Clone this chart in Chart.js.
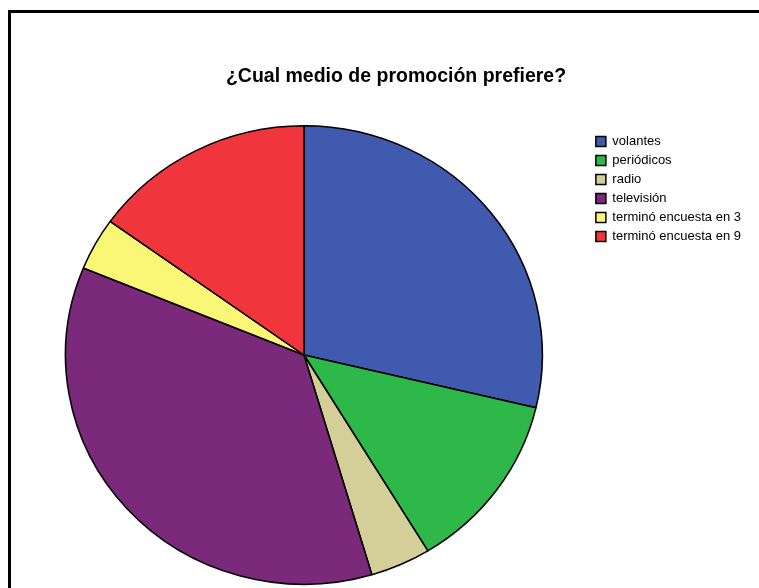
<!DOCTYPE html>
<html>
<head>
<meta charset="utf-8">
<script src="https://cdn.jsdelivr.net/npm/chart.js@4/dist/chart.umd.min.js"></script>
<style>
  html, body { margin: 0; padding: 0; background: #fff; overflow: hidden; }
  #wrap { position: relative; width: 759px; height: 588px; }
  #frame {
    position: absolute; left: 8px; top: 10px; width: 900px; height: 700px;
    border-left: 3px solid #000; border-top: 3px solid #000; pointer-events: none;
  }
</style>
</head>
<body>
<div id="wrap">
  <canvas id="promoChart" width="759" height="588"></canvas>
  <div id="frame"></div>
</div>
<script>
const categories = ["volantes", "periódicos", "radio", "televisión", "terminó encuesta en 3", "terminó encuesta en 9"];
const shares = [28.7, 12.6, 4.1, 35.8, 3.7, 15.1];
const sliceColors = ["#3F5AAE", "#2FB84A", "#D4CE98", "#7B297B", "#FBF776", "#F0363C"];

// the pie is a little wider than tall
const stretchX = 1.04;

const ellipsePie = {
    id: "ellipsePie",
    beforeDatasetsDraw(chart) {
        const arc = chart.getDatasetMeta(0).data[0];
        if (!arc) return;
        const ctx = chart.ctx;
        ctx.save();
        ctx.translate(arc.x, arc.y);
        ctx.scale(stretchX, 1);
        ctx.translate(-arc.x, -arc.y);
    },
    afterDatasetsDraw(chart) {
        chart.ctx.restore();
    },
    afterLayout(chart) {
        // title sits right of centre, legend starts level with the pie
        chart.titleBlock.left += 23;
        chart.legend.top += 119;
    },
};

document.addEventListener("DOMContentLoaded", () => {
    const canvas = document.getElementById("promoChart");
    new Chart(canvas, {
        type: "pie",
        data: {
            labels: categories,
            datasets: [
                {
                    data: shares,
                    backgroundColor: sliceColors,
                    borderColor: "#000",
                    borderWidth: 1.5,
                },
            ],
        },
        options: {
            responsive: false,
            animation: false,
            devicePixelRatio: 1,
            layout: { padding: { left: 18, right: 8, top: 10, bottom: 3 } },
            plugins: {
                title: {
                    display: true,
                    text: "¿Cual medio de promoción prefiere?",
                    color: "#000",
                    font: { family: "'Liberation Sans', Arial, sans-serif", size: 19.5, weight: "bold", lineHeight: 1.2 },
                    padding: { top: 55.3, bottom: 36.3 },
                },
                legend: {
                    position: "right",
                    align: "start",
                    labels: {
                        color: "#000",
                        boxWidth: 10,
                        boxHeight: 10,
                        padding: 6,
                        font: { family: "'Liberation Sans', Arial, sans-serif", size: 13, lineHeight: 1.2 },
                    },
                },
                tooltip: { enabled: false },
            },
        },
        plugins: [ellipsePie],
    });
});
</script>
</body>
</html>
